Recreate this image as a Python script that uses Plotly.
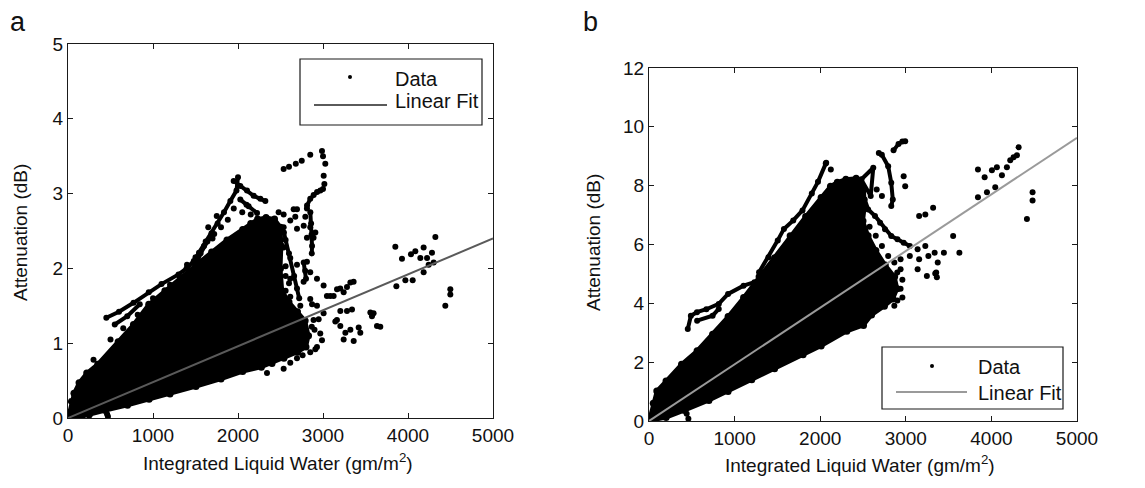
import plotly.graph_objects as go

W, H = 1145, 488

# ---------------- Panel a data (x: gm/m^2, y: dB) ----------------
fit_a_x = [0, 5000]
fit_a_y = [0, 2.40]

cloud_a = [(0, 0), (40, 0.22), (70, 0.33), (130, 0.47), (220, 0.60), (350, 0.72), (590, 1.02),
           (770, 1.25), (950, 1.52), (1140, 1.70), (1320, 1.88), (1500, 2.05), (1690, 2.22),
           (1870, 2.38), (2055, 2.52), (2150, 2.60), (2230, 2.66), (2330, 2.68), (2430, 2.66),
           (2500, 2.55), (2510, 2.30), (2500, 2.00), (2520, 1.70), (2600, 1.55), (2700, 1.42),
           (2790, 1.30), (2830, 1.10), (2800, 0.95), (2700, 0.88), (2540, 0.80), (2400, 0.73),
           (2275, 0.68), (2055, 0.62), (1800, 0.52), (1505, 0.42), (1200, 0.32), (954, 0.25),
           (700, 0.17), (440, 0.10), (250, 0.04), (100, 0.0), (0, 0)]

streaks_a = [
    [(451, 1.34), (600, 1.42), (771, 1.54), (950, 1.68), (1100, 1.79), (1300, 1.92), (1395, 2.00),
     (1480, 2.10), (1541, 2.21), (1620, 2.36), (1688, 2.47), (1760, 2.60), (1835, 2.75),
     (1910, 2.90), (1982, 3.04), (2000, 3.22)],
    [(550, 1.25), (697, 1.36), (844, 1.52)],
    [(1243, 1.70), (1400, 1.86), (1500, 2.02), (1560, 2.20), (1640, 2.36), (1720, 2.46)],
    [(1949, 3.17), (2027, 3.10), (2106, 3.04), (2184, 2.97), (2263, 2.93), (2322, 2.90)],
    [(2027, 2.92), (2125, 2.83), (2224, 2.74)],
    [(2812, 2.84), (2850, 2.93), (2890, 2.98), (2930, 3.02), (2969, 3.04), (3000, 3.06)],
    [(2851, 2.75), (2860, 2.60), (2865, 2.45), (2871, 2.30), (2868, 2.20)],
    [(2540, 2.48), (2600, 2.20), (2660, 1.90), (2720, 1.60)],
    [(2773, 2.08), (2790, 1.97), (2800, 1.86)],
]

dots_a = [(2537, 3.33), (2600, 3.36), (2680, 3.40), (2750, 3.44), (2850, 3.52),
          (2988, 3.57), (3000, 3.50), (3027, 3.40), (3008, 3.24), (3016, 3.13),
          (2478, 2.75), (2537, 2.55), (2615, 2.64), (2674, 2.69), (2694, 2.53),
          (2811, 2.80), (2792, 2.69), (2811, 2.41), (2850, 2.55), (2889, 2.41), (2560, 2.38),
          (2537, 2.28), (2615, 2.14), (2694, 2.05), (2811, 2.09), (2850, 1.95), (2929, 1.86),
          (3007, 1.77), (3046, 1.63), (2772, 1.82), (2694, 1.73), (2615, 1.86), (2560, 1.70),
          (2615, 1.62), (2733, 1.50), (2850, 1.59), (2929, 1.50), (3007, 1.40), (2889, 1.31),
          (2868, 1.22), (2968, 1.13), (2929, 0.95), (2850, 0.88), (2694, 0.80), (2615, 0.74),
          (2537, 0.66), (2760, 0.84), (2341, 0.60), (2988, 1.04), (2910, 0.92), (2900, 1.18),
          (2949, 1.32), (2871, 1.52), (2560, 2.03), (2560, 1.90), (2600, 1.80),
          (2341, 2.53), (2420, 2.62), (2537, 2.72), (2655, 2.79), (2694, 2.79), (2773, 2.57),
          (2910, 2.48), (3086, 1.63),
          (3203, 1.73), (3360, 1.82), (3125, 1.63), (3165, 1.72), (3243, 1.68), (3282, 1.75),
          (3322, 1.81),
          (3145, 1.29), (3204, 1.23), (3263, 1.14), (3243, 1.05), (3361, 1.03), (3322, 1.18),
          (3420, 1.21), (3439, 1.14), (3557, 1.41), (3576, 1.36), (3635, 1.23), (3282, 1.43),
          (3341, 1.45), (3204, 1.43), (3164, 1.31), (3595, 1.40), (3674, 1.22),
          (3851, 2.29), (3929, 2.13), (4035, 2.19), (4086, 2.23), (4184, 2.28), (4322, 2.42),
          (4145, 2.14), (4224, 2.14), (4282, 2.21), (4302, 2.08), (4243, 2.05), (4184, 1.95),
          (3863, 1.76), (3969, 1.84), (4055, 1.84), (4439, 1.50), (4498, 1.72), (4498, 1.65),
          (300, 0.78), (500, 1.05), (650, 1.20), (820, 1.38), (1000, 1.60), (1200, 1.78),
          (1400, 2.05), (1500, 2.15), (1600, 2.30), (1700, 2.40), (1800, 2.55), (1880, 2.65),
          (1950, 2.80), (2050, 2.75), (2100, 2.85), (2150, 2.72), (1750, 2.70), (1650, 2.55),
          (460, 0.05), (470, 0.02)]

# ---------------- Panel b data ----------------
fit_b_x = [0, 5000]
fit_b_y = [0, 9.63]

cloud_b = [(0, 0), (50, 0.6), (91, 1.02), (199, 1.36), (380, 1.93), (562, 2.39), (743, 2.95),
           (924, 3.55), (1105, 4.20), (1286, 4.90), (1467, 5.55), (1649, 6.30), (1830, 6.95),
           (2011, 7.60), (2120, 7.98), (2200, 8.12), (2300, 8.22), (2420, 8.25), (2510, 7.90),
           (2520, 7.30), (2500, 6.80), (2560, 6.30), (2650, 5.80), (2760, 5.30), (2870, 4.90),
           (2900, 4.50), (2850, 4.15), (2750, 3.90), (2600, 3.60), (2506, 3.25), (2311, 3.05),
           (2011, 2.55), (1800, 2.25), (1467, 1.78), (1200, 1.40), (924, 1.00), (700, 0.70),
           (417, 0.36), (200, 0.12), (0, 0)]

streaks_b = [
    [(453, 3.13), (489, 3.58), (560, 3.70), (670, 3.80), (815, 3.98), (924, 4.32), (1105, 4.60),
     (1232, 4.72)],
    [(562, 3.41), (743, 3.58), (815, 3.81)],
    [(1286, 5.06), (1395, 5.57), (1504, 6.14), (1576, 6.53), (1685, 6.82), (1793, 7.16),
     (1902, 7.73), (1974, 8.13), (2065, 8.75)],
    [(2720, 9.05), (2794, 8.66), (2830, 8.10), (2848, 7.53), (2830, 7.31)],
    [(2857, 9.20), (2915, 9.42), (2960, 9.50), (2993, 9.51)],
    [(2480, 8.21), (2620, 8.61), (2590, 7.65), (2480, 8.21)],
    [(2520, 7.53), (2560, 7.19), (2640, 6.97), (2700, 6.74), (2757, 6.52), (2830, 6.29),
     (2902, 6.18), (2975, 6.06), (3047, 5.95)],
]

dots_b = [(2070, 8.78), (2124, 8.55), (2685, 9.11), (2975, 8.32), (2993, 7.98),
          (2660, 7.87), (2721, 7.65),
          (3156, 6.97), (3228, 7.02), (3319, 7.25),
          (2577, 6.60), (2649, 6.30), (2721, 5.95), (2794, 5.61),
          (2866, 5.39), (2939, 5.50), (3047, 5.61),
          (2900, 5.05), (2939, 5.16), (2960, 4.80),
          (2830, 4.37), (2939, 4.50), (2960, 4.20),
          (2649, 3.80), (2794, 4.14), (2866, 3.92), (2902, 4.10),
          (3138, 5.84), (3156, 5.50), (3138, 5.16), (3228, 5.95), (3264, 5.61), (3337, 5.72),
          (3373, 5.39), (3355, 5.05), (3445, 5.72), (3553, 6.29), (3626, 5.72), (3246, 4.93),
          (3363, 4.89), (3344, 5.01),
          (3843, 8.55), (3921, 8.29), (4006, 8.52), (4064, 8.63), (4123, 8.35), (4181, 8.63),
          (4220, 8.86), (4259, 8.97), (4318, 9.31), (4298, 9.03), (3843, 7.61), (3948, 7.78),
          (4045, 7.95), (4415, 6.87), (4481, 7.78), (4481, 7.50),
          (440, 0.25), (460, 0.08)]

x_ticks = [0, 1000, 2000, 3000, 4000, 5000]
y_ticks_a = [0, 1, 2, 3, 4, 5]
y_ticks_b = [0, 2, 4, 6, 8, 10, 12]

FONT = "Liberation Sans, Arial, sans-serif"
AX = "#1a1a1a"
TXT = "#111111"

fig = go.Figure()


def add_panel(xa, ya, cloud, streaks, dots, fx, fy, fitcolor):
    fig.add_trace(go.Scatter(x=[p[0] for p in cloud], y=[p[1] for p in cloud], mode="lines+markers",
                             fill="toself", fillcolor="black", line=dict(color="black", width=4),
                             marker=dict(color="black", size=7),
                             xaxis=xa, yaxis=ya, showlegend=False, hoverinfo="skip"))
    for s in streaks:
        fig.add_trace(go.Scatter(x=[p[0] for p in s], y=[p[1] for p in s], mode="lines+markers",
                                 line=dict(color="black", width=4), marker=dict(color="black", size=6),
                                 xaxis=xa, yaxis=ya, showlegend=False, hoverinfo="skip"))
    fig.add_trace(go.Scatter(x=[p[0] for p in dots], y=[p[1] for p in dots], mode="markers",
                             marker=dict(color="black", size=6), name="Data",
                             xaxis=xa, yaxis=ya, showlegend=False))
    fig.add_trace(go.Scatter(x=fx, y=fy, mode="lines", line=dict(color=fitcolor, width=2),
                             name="Linear Fit", xaxis=xa, yaxis=ya, showlegend=False))


add_panel("x", "y", cloud_a, streaks_a, dots_a, fit_a_x, fit_a_y, "#5a5a5a")
add_panel("x2", "y2", cloud_b, streaks_b, dots_b, fit_b_x, fit_b_y, "#9a9a9a")


def px(x):
    return x / W


def py(y):
    return 1 - y / H


axis_common = dict(showgrid=False, zeroline=False, showline=True, linecolor=AX, linewidth=1,
                   mirror="ticks", ticks="inside", ticklen=5, tickcolor=AX, automargin=False,
                   tickfont=dict(family=FONT, size=19, color=TXT))

fig.update_layout(
    width=W, height=H, autosize=False, margin=dict(l=0, r=0, t=0, b=0, pad=0),
    paper_bgcolor="white", plot_bgcolor="white", showlegend=False,
    xaxis=dict(domain=[px(68), px(493)], range=[0, 5000], tickvals=x_ticks, anchor="y", **axis_common),
    yaxis=dict(domain=[py(418), py(44)], range=[0, 5], tickvals=y_ticks_a, anchor="x", **axis_common),
    xaxis2=dict(domain=[px(649), px(1077)], range=[0, 5000], tickvals=x_ticks, anchor="y2", **axis_common),
    yaxis2=dict(domain=[py(421), py(68)], range=[0, 12], tickvals=y_ticks_b, anchor="x2", **axis_common),
)

tfont = dict(family=FONT, size=19, color=TXT)
lfont = dict(family=FONT, size=20, color=TXT)
ann = [
    dict(text="a", x=px(18), y=py(22), font=dict(family=FONT, size=27, color=TXT)),
    dict(text="b", x=px(590), y=py(22), font=dict(family=FONT, size=27, color=TXT)),
    dict(text="Attenuation (dB)", x=px(20), y=py(233), textangle=-90, font=tfont),
    dict(text="Attenuation (dB)", x=px(593), y=py(243), textangle=-90, font=tfont),
    dict(text="Integrated Liquid Water (gm/m<sup>2</sup>)", x=px(278), y=py(462), font=tfont),
    dict(text="Integrated Liquid Water (gm/m<sup>2</sup>)", x=px(860), y=py(464), font=tfont),
    dict(text="Data", x=px(393), y=py(79), xanchor="left", font=lfont),
    dict(text="Linear Fit", x=px(393), y=py(101), xanchor="left", font=lfont),
    dict(text="Data", x=px(976), y=py(367), xanchor="left", font=lfont),
    dict(text="Linear Fit", x=px(976), y=py(393), xanchor="left", font=lfont),
]
for a in ann:
    a.setdefault("xanchor", "center")
    a.update(xref="paper", yref="paper", yanchor="middle", showarrow=False)
fig.update_layout(annotations=ann)

shapes = [
    dict(type="rect", x0=px(300), x1=px(482), y0=py(125), y1=py(59), line=dict(color=AX, width=1.2),
         fillcolor="white"),
    dict(type="line", x0=px(314), x1=px(387), y0=py(105), y1=py(105), line=dict(color="#5a5a5a", width=2)),
    dict(type="circle", xsizemode="pixel", ysizemode="pixel", xanchor=px(350), yanchor=py(77),
         x0=-2, x1=2, y0=-2, y1=2, fillcolor="black", line=dict(width=0)),
    dict(type="rect", x0=px(882), x1=px(1063), y0=py(409), y1=py(347), line=dict(color=AX, width=1.2),
         fillcolor="white"),
    dict(type="line", x0=px(896), x1=px(967), y0=py(392), y1=py(392), line=dict(color="#9a9a9a", width=2)),
    dict(type="circle", xsizemode="pixel", ysizemode="pixel", xanchor=px(932), yanchor=py(366),
         x0=-2, x1=2, y0=-2, y1=2, fillcolor="black", line=dict(width=0)),
]
for s in shapes:
    s.update(xref="paper", yref="paper", layer="above")
fig.update_layout(shapes=shapes)

fig.write_html("out.html", config={"displayModeBar": False},
               post_script="document.body.style.margin='0';document.body.style.overflow='hidden';")
